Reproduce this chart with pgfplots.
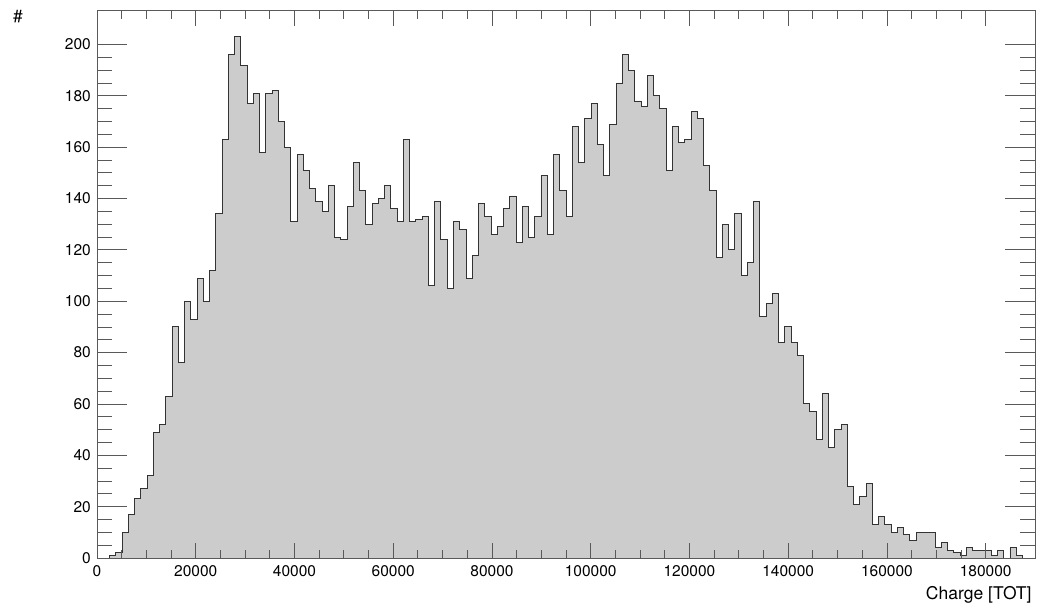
\documentclass[border=0pt]{standalone}
\usepackage{fontspec}
\setmainfont{TeX Gyre Heros}
\usepackage{pgfplots}
\usepackage{pgfplotstable}
\pgfplotsset{compat=1.18}
\definecolor{histfill}{RGB}{204,204,204}
\pgfplotstableread{
y
0
0
1
2
10
17
23
27
32
49
52
63
90
76
100
93
109
100
112
134
163
196
203
192
177
181
158
181
182
170
160
131
157
151
144
139
135
145
125
124
137
154
143
130
138
140
145
136
131
163
131
132
133
106
139
124
105
131
128
109
118
138
133
126
129
136
141
123
137
125
133
149
126
157
143
133
168
154
171
177
161
149
169
185
196
190
178
176
188
180
175
151
168
162
163
174
171
153
143
117
130
120
134
110
115
139
94
99
103
84
90
84
79
60
57
46
64
43
50
52
28
21
24
29
13
16
13
10
12
9
7
10
10
10
4
6
3
2
1
4
3
3
3
1
3
0
4
1
0
0
0
}\histdata
\begin{document}
\begin{tikzpicture}
\useasboundingbox (0,0) rectangle (1038pt,606pt);
\begin{axis}[
  at={(97pt,48pt)}, anchor=south west,
  scale only axis, width=938pt, height=547.3pt,
  xmin=0, xmax=190000, ymin=0, ymax=213.15,
  axis on top,
  tick align=inside, xtick pos=both, ytick pos=both,
  xtick={0,20000,40000,60000,80000,100000,120000,140000,160000,180000},
  ytick={0,20,40,60,80,100,120,140,160,180,200},
  minor x tick num=3, minor y tick num=3,
  scaled x ticks=false, scaled y ticks=false,
  /pgf/number format/assume math mode=true,
  tick label style={font=\fontsize{15.5}{18}\selectfont},
  xticklabel style={/pgf/number format/fixed, /pgf/number format/1000 sep={}, inner sep=0pt, anchor=north, yshift=-7pt},
  yticklabel style={inner sep=0pt, anchor=east, xshift=-6pt},
  x tick style={/pgfplots/major tick length=15.5pt, /pgfplots/minor tick length=8pt},
  y tick style={/pgfplots/major tick length=30.5pt, /pgfplots/minor tick length=15.3pt},
  tick style={black!65, line width=0.8pt},
  axis line style={black!65, line width=0.8pt},
  xlabel={Charge [TOT]},
  ylabel={\#},
  every axis x label/.style={at={(rel axis cs:1,0)}, anchor=base east, yshift=-41pt, font=\fontsize{17.5}{20}\selectfont},
  every axis y label/.style={at={(rel axis cs:0,1)}, anchor=center, xshift=-79pt, yshift=-5.5pt, font=\fontsize{17.5}{20}\selectfont},
]
\addplot[const plot, draw=black!80, line width=0.9pt, fill=histfill]
  table[x expr=\coordindex*1266.66667, y=y] {\histdata} \closedcycle;
\end{axis}
\end{tikzpicture}
\end{document}
